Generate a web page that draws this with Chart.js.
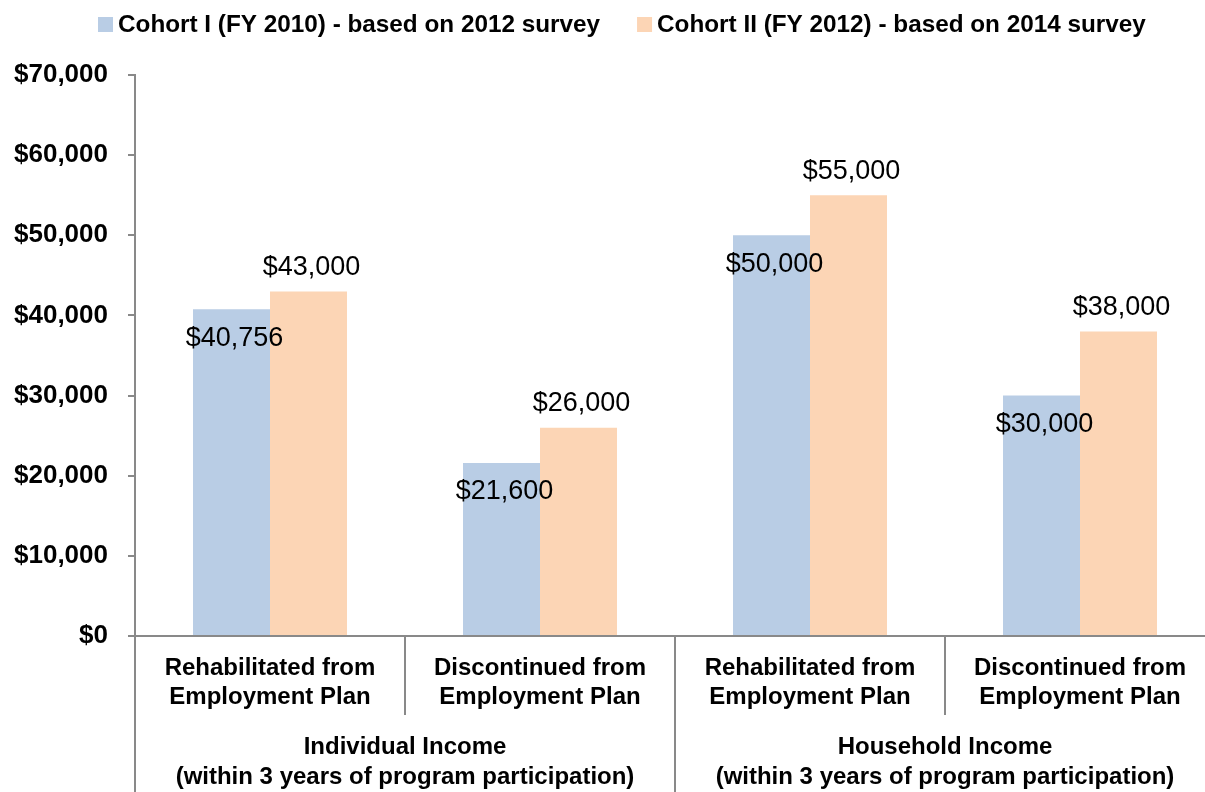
<!DOCTYPE html>
<html><head><meta charset="utf-8">
<script src="https://cdn.jsdelivr.net/npm/chart.js@4"></script>
<style>
html,body{margin:0;padding:0;background:#fff;overflow:hidden;width:1205px;height:792px}
#wrap{position:absolute;left:0;top:0;width:1215px;height:792px}
</style>
</head><body><div id="wrap"><canvas id="c"></canvas></div>
<script>
const categories = [
  ['Rehabilitated from', 'Employment Plan'],
  ['Discontinued from', 'Employment Plan'],
  ['Rehabilitated from', 'Employment Plan'],
  ['Discontinued from', 'Employment Plan']
];
const groupLabels = [
  ['Individual Income', '(within 3 years of program participation)'],
  ['Household Income', '(within 3 years of program participation)']
];
const groupSpans = [[0, 1], [2, 3]];
const seriesNames = ['Cohort I (FY 2010) - based on 2012 survey', 'Cohort II (FY 2012) - based on 2014 survey'];
const cohort1 = [40756, 21600, 50000, 30000];
const cohort2 = [43000, 26000, 55000, 38000];
const yMin = 0, yMax = 70000, yStep = 10000;

const BLUE = '#B9CDE5', ORANGE = '#FCD5B5', AXIS = '#898989';
const LABEL_FONT = 'bold 24px "Liberation Sans", Arial, sans-serif';
const LEGEND_FONT = 'bold 24.3px "Liberation Sans", Arial, sans-serif';
const VALUE_FONT = '27px "Liberation Sans", Arial, sans-serif';

function money(v) { return '$' + v.toLocaleString('en-US'); }

const decor = {
  id: 'decor',
  afterDraw(chart) {
    const ctx = chart.ctx, ca = chart.chartArea, x = chart.scales.x;
    const H = chart.height;
    ctx.save();
    ctx.strokeStyle = AXIS; ctx.lineWidth = 2;
    ctx.beginPath(); ctx.moveTo(ca.left, ca.bottom); ctx.lineTo(ca.left, H); ctx.stroke();
    for (let i = 1; i < categories.length; i++) {
      const bx = Math.round((x.getPixelForValue(i - 1) + x.getPixelForValue(i)) / 2);
      const isGroup = groupSpans.some(g => g[0] === i);
      ctx.beginPath(); ctx.moveTo(bx, ca.bottom); ctx.lineTo(bx, isGroup ? H : ca.bottom + 79); ctx.stroke();
    }
    ctx.fillStyle = '#000'; ctx.font = LABEL_FONT; ctx.textAlign = 'center'; ctx.textBaseline = 'middle';
    groupSpans.forEach((g, gi) => {
      const cx = (x.getPixelForValue(g[0]) + x.getPixelForValue(g[1])) / 2;
      groupLabels[gi].forEach((t, li) => ctx.fillText(t, cx, ca.bottom + 111 + li * 30));
    });
    const colors = [BLUE, ORANGE];
    ctx.font = LEGEND_FONT;
    let lx = 98;
    seriesNames.forEach((name, i) => {
      ctx.fillStyle = colors[i];
      ctx.fillRect(lx, 17, 15, 15);
      ctx.fillStyle = '#000'; ctx.textAlign = 'left';
      ctx.fillText(name, lx + 20, 25);
      lx += 20 + ctx.measureText(name).width + 37;
    });
    ctx.restore();
  },
  afterDatasetsDraw(chart) {
    const ctx = chart.ctx;
    ctx.save();
    ctx.font = VALUE_FONT; ctx.fillStyle = '#000'; ctx.textAlign = 'center'; ctx.textBaseline = 'middle';
    chart.data.datasets.forEach((ds, di) => {
      const meta = chart.getDatasetMeta(di);
      meta.data.forEach((bar, i) => {
        const v = ds.data[i];
        if (di === 0) ctx.fillText(money(v), bar.x + 3, bar.y + 29);
        else ctx.fillText(money(v), bar.x + 3, bar.y - 24);
      });
    });
    ctx.restore();
  }
};

new Chart(document.getElementById('c'), {
  type: 'bar',
  data: {
    labels: categories,
    datasets: [
      { label: seriesNames[0], data: cohort1, backgroundColor: BLUE, borderWidth: 0 },
      { label: seriesNames[1], data: cohort2, backgroundColor: ORANGE, borderWidth: 0 }
    ]
  },
  options: {
    responsive: true, maintainAspectRatio: false, animation: false,
    layout: { padding: { top: 75, left: 0, right: 0, bottom: 0 } },
    datasets: { bar: { categoryPercentage: 0.5704, barPercentage: 1 } },
    plugins: { legend: { display: false }, tooltip: { enabled: false } },
    scales: {
      x: {
        grid: { display: false, drawTicks: false },
        border: { display: true, color: AXIS, width: 2 },
        ticks: { color: '#000', font: { family: '"Liberation Sans", Arial, sans-serif', size: 24, weight: 'bold', lineHeight: 1.2 }, padding: 18, maxRotation: 0, autoSkip: false },
        afterFit(s) { s.height = 156; }
      },
      y: {
        min: yMin, max: yMax,
        grid: { drawOnChartArea: false, drawTicks: true, tickLength: 7, color: AXIS, lineWidth: 2 },
        border: { display: true, color: AXIS, width: 2 },
        ticks: { stepSize: yStep, color: '#000', padding: 20, font: { family: '"Liberation Sans", Arial, sans-serif', size: 26, weight: 'bold' }, callback: v => money(v) },
        afterFit(s) { s.width = 135; }
      }
    }
  },
  plugins: [decor]
});
</script>
</body></html>
